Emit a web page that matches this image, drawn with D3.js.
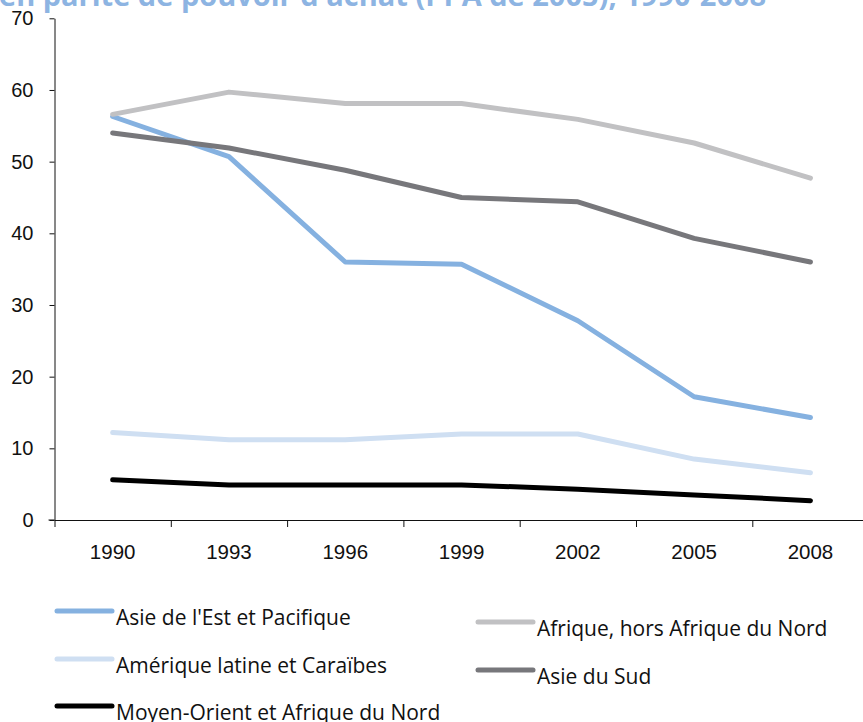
<!DOCTYPE html>
<html>
<head>
<meta charset="utf-8">
<script src="https://cdn.jsdelivr.net/npm/d3@7"></script>
<style>
  html, body { margin: 0; padding: 0; background: #fff; }
  svg { display: block; font-family: "Open Sans", "Noto Sans", sans-serif; }
</style>
</head>
<body>
<div id="chart"></div>
<script>
// data
const years = ["1990", "1993", "1996", "1999", "2002", "2005", "2008"]
const yTicks = [0, 10, 20, 30, 40, 50, 60, 70]

const asieEst = [56.3, 50.7, 36.0, 35.7, 27.8, 17.2, 14.3]
const ameriqueLatine = [12.2, 11.2, 11.2, 12.0, 12.0, 8.5, 6.6]
const moyenOrient = [5.6, 4.9, 4.9, 4.9, 4.3, 3.5, 2.7]
const afriqueSub = [56.6, 59.7, 58.1, 58.1, 55.9, 52.6, 47.7]
const asieSud = [54.0, 51.9, 48.8, 45.0, 44.4, 39.3, 36.0]

const seriesNames = [
  "Asie de l'Est et Pacifique",
  "Amérique latine et Caraïbes",
  "Moyen-Orient et Afrique du Nord",
  "Afrique, hors Afrique du Nord",
  "Asie du Sud"
]
const seriesValues = [asieEst, ameriqueLatine, moyenOrient, afriqueSub, asieSud]
const seriesColors = ["#85b1e0", "#cfdff2", "#000000", "#c1c1c3", "#77777b"]

const width = 863
const height = 722
const plot = {left: 54.5, right: 868.6, top: 18.3, bottom: 520}

const svg = d3.select("#chart").append("svg")
  .attr("width", width)
  .attr("height", height)
  .attr("viewBox", [0, 0, width, height])

// title, cut off at the top like the source image
svg.append("text")
  .attr("x", -1)
  .attr("y", 6)
  .attr("fill", "#8db4e2")
  .style("font-size", "29px")
  .style("font-weight", "700")
  .text("en parité de pouvoir d'achat (PPA de 2005), 1990-2008")

const x = d3.scaleBand()
  .domain(years)
  .range([plot.left, plot.right])
  .paddingInner(0)
  .paddingOuter(0)

const xEdges = d3.scaleLinear()
  .domain([0, years.length])
  .range([plot.left, plot.right])

const y = d3.scaleLinear()
  .domain([0, 70])
  .range([plot.bottom, plot.top])

// y axis
const yAxis = svg.append("g")
  .attr("transform", `translate(${plot.left},0)`)
  .call(d3.axisLeft(y).tickValues(yTicks).tickSize(5).tickPadding(16).tickSizeOuter(0))
yAxis.selectAll("text").style("font-size", "20px").attr("fill", "#111")
yAxis.selectAll("line, path").attr("stroke", "#111")

// x axis: tick marks between categories, labels centred under them
const xTickAxis = svg.append("g")
  .attr("transform", `translate(0,${plot.bottom})`)
  .call(d3.axisBottom(xEdges).tickValues(d3.range(0, years.length + 1)).tickFormat("").tickSize(7).tickSizeOuter(0))
xTickAxis.selectAll("line, path").attr("stroke", "#111")
// the baseline pokes out a little left of the y axis
xTickAxis.append("line")
  .attr("x1", plot.left - 6)
  .attr("x2", plot.left)
  .attr("stroke", "#111")

const xLabelAxis = svg.append("g")
  .attr("transform", `translate(0,${plot.bottom})`)
  .call(d3.axisBottom(x).tickSize(0).tickPadding(24))
xLabelAxis.select(".domain").remove()
xLabelAxis.selectAll("text").style("font-size", "20.5px").attr("fill", "#111")

// lines
const line = d3.line()
  .x((d, i) => x(years[i]) + x.bandwidth() / 2)
  .y(d => y(d))

svg.append("g")
  .selectAll("path")
  .data(seriesValues)
  .join("path")
  .attr("d", d => line(d))
  .attr("fill", "none")
  .attr("stroke", (d, i) => seriesColors[i])
  .attr("stroke-width", 5)
  .attr("stroke-linecap", "round")
  .attr("stroke-linejoin", "round")

// legend, two columns like the source
const legendPos = [
  {x: 57, y: 611}, {x: 57, y: 659}, {x: 57, y: 706},
  {x: 478, y: 622}, {x: 478, y: 670}
]

const legend = svg.append("g")
  .selectAll("g")
  .data(seriesNames)
  .join("g")
  .attr("transform", (d, i) => `translate(${legendPos[i].x},${legendPos[i].y})`)

legend.append("line")
  .attr("x1", 0)
  .attr("x2", 55)
  .attr("stroke", (d, i) => seriesColors[i])
  .attr("stroke-width", 5)
  .attr("stroke-linecap", "round")

legend.append("text")
  .attr("x", 59)
  .attr("y", 14)
  .attr("fill", "#111")
  .style("font-size", "21px")
  .text(d => d)
</script>
</body>
</html>
